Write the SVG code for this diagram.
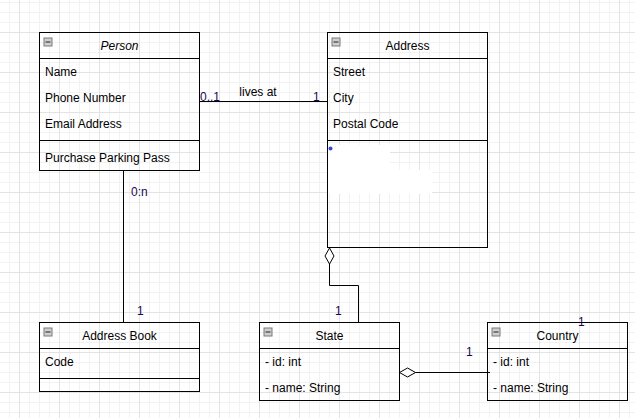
<svg xmlns="http://www.w3.org/2000/svg" width="635" height="418" viewBox="0 0 635 418">
<defs>
<pattern id="grid" x="19" y="32" width="40" height="40" patternUnits="userSpaceOnUse">
<path d="M10.5 0V40M20.5 0V40M30.5 0V40M0 10.5H40M0 20.5H40M0 30.5H40" stroke="#f2f2f2" stroke-width="1" fill="none"/>
<path d="M0.5 0V40M0 0.5H40" stroke="#e3e3e3" stroke-width="1" fill="none"/>
</pattern>
<g id="minus">
<rect x="0.5" y="0.5" width="8" height="8" fill="#cfcfcf" stroke="#7a7a7a"/>
<line x1="2" y1="4.5" x2="7" y2="4.5" stroke="#222" stroke-width="1"/>
</g>
</defs>
<style>
text{font-family:"Liberation Sans",Arial,sans-serif;font-size:12px;fill:#000}
.t{text-anchor:middle}
.m{fill:#1c0652}
.box{fill:none;stroke:#000;stroke-width:1}
.ln{fill:none;stroke:#000;stroke-width:1}
</style>
<rect width="635" height="418" fill="#fff"/>
<rect width="635" height="418" fill="url(#grid)"/>

<g id="connectors">
<line class="ln" x1="199.5" y1="101.5" x2="327.5" y2="101.5"/>
<line class="ln" x1="123.5" y1="170.5" x2="123.5" y2="322.5"/>
<path class="ln" d="M329.5 264V285.5H358.5V322.5"/>
<path d="M329.5 248L334 256L329.5 264L325 256Z" fill="#fff" stroke="#000"/>
<line class="ln" x1="415" y1="372.5" x2="490" y2="372.5"/>
<path d="M399.5 372.5L407.5 368L415.5 372.5L407.5 377Z" fill="#fff" stroke="#000"/>
<text class="m" x="200" y="101">0..1</text>
<text x="258" y="96" class="t">lives at</text>
<text class="m" x="313" y="101">1</text>
<text class="m" x="131" y="196">0:n</text>
<text class="m" x="137" y="315">1</text>
<text class="m" x="335" y="315">1</text>
<text class="m" x="466" y="356">1</text>
<text class="m" x="578" y="326">1</text>
</g>

<g id="person">
<rect class="box" x="39.5" y="32.5" width="160" height="138"/>
<line class="ln" x1="39.5" y1="58.5" x2="199.5" y2="58.5"/>
<line class="ln" x1="39.5" y1="140.5" x2="199.5" y2="140.5"/>
<use href="#minus" x="43.5" y="37.5"/>
<text x="119.5" y="50" class="t" font-style="italic">Person</text>
<text x="45" y="76">Name</text>
<text x="45" y="102">Phone Number</text>
<text x="45" y="128">Email Address</text>
<text x="45" y="162">Purchase Parking Pass</text>
</g>

<g id="address">
<rect x="328" y="145" width="62" height="28" fill="#fff"/>
<rect x="328" y="170" width="104" height="24" fill="#fff"/>
<rect class="box" x="327.5" y="32.5" width="160" height="215"/>
<line class="ln" x1="327.5" y1="58.5" x2="487.5" y2="58.5"/>
<line class="ln" x1="327.5" y1="140.5" x2="487.5" y2="140.5"/>
<use href="#minus" x="331.5" y="37.5"/>
<circle cx="330.5" cy="148.5" r="2" fill="#3344dd"/>
<text x="407.5" y="50" class="t">Address</text>
<text x="333" y="76">Street</text>
<text x="333" y="102">City</text>
<text x="333" y="128">Postal Code</text>
</g>

<g id="address-book">
<rect class="box" x="39.5" y="322.5" width="160" height="69"/>
<line class="ln" x1="39.5" y1="348.5" x2="199.5" y2="348.5"/>
<line class="ln" x1="39.5" y1="378.5" x2="199.5" y2="378.5"/>
<use href="#minus" x="43.5" y="327.5"/>
<text x="119.5" y="340" class="t">Address Book</text>
<text x="45" y="366">Code</text>
</g>

<g id="state">
<rect class="box" x="259.5" y="322.5" width="140" height="78"/>
<line class="ln" x1="259.5" y1="348.5" x2="399.5" y2="348.5"/>
<use href="#minus" x="263.5" y="327.5"/>
<text x="329.5" y="340" class="t">State</text>
<text x="265" y="366">- id: int</text>
<text x="265" y="392">- name: String</text>
</g>

<g id="country">
<rect class="box" x="487.5" y="322.5" width="140" height="78"/>
<line class="ln" x1="487.5" y1="348.5" x2="627.5" y2="348.5"/>
<use href="#minus" x="491.5" y="327.5"/>
<text x="557.5" y="340" class="t">Country</text>
<text x="493" y="366">- id: int</text>
<text x="493" y="392">- name: String</text>
</g>
</svg>
